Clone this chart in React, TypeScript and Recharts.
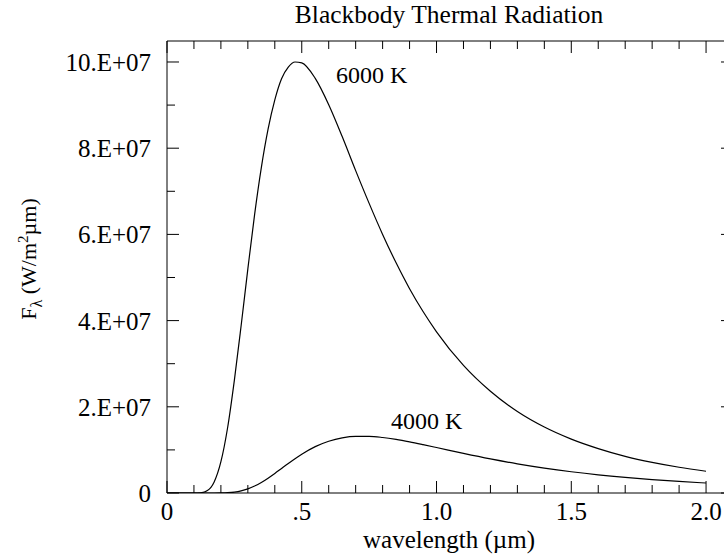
import React from "react";
import { LineChart, Line, XAxis, YAxis, ReferenceDot, Label } from "recharts";

const FONT = "'Liberation Serif', 'Times New Roman', Times, serif";

// wavelength in µm
const wavelengths = [
  0, 0.05, 0.1, 0.125, 0.15, 0.175, 0.2, 0.225, 0.25, 0.275, 0.3, 0.325, 0.35, 0.375, 0.4, 0.425,
  0.45, 0.475, 0.5, 0.55, 0.6, 0.65, 0.7, 0.75, 0.8, 0.85, 0.9, 0.95, 1.0, 1.1, 1.2, 1.3, 1.4,
  1.5, 1.6, 1.7, 1.8, 1.9, 2.0,
];
const flux6000 = [
  0, 0, 0, 60000, 560000, 2560000, 7260000, 15200000, 26200000, 38800000, 52000000, 64600000,
  75500000, 84400000, 91200000, 96100000, 98800000, 100000000, 99800000, 96200000, 90100000,
  82700000, 74800000, 67200000, 60000000, 53400000, 47400000, 42100000, 37400000, 29600000,
  23600000, 18900000, 15300000, 12500000, 10300000, 8500000, 7100000, 5970000, 5050000,
];
const flux4000 = [
  0, 0, 0, 0, 0, 0, 18000, 74000, 215000, 496000, 957000, 1610000, 2450000, 3450000, 4540000,
  5700000, 6850000, 7960000, 9000000, 10760000, 12010000, 12800000, 13140000, 13140000, 12880000,
  12430000, 11860000, 11220000, 10550000, 9180000, 7900000, 6760000, 5770000, 4930000, 4210000,
  3610000, 3110000, 2680000, 2320000,
];

const xTicks = [0, 0.1, 0.2, 0.3, 0.4, 0.5, 0.6, 0.7, 0.8, 0.9, 1.0, 1.1, 1.2, 1.3, 1.4, 1.5, 1.6, 1.7, 1.8, 1.9, 2.0, 2.1];
const xMajor = [0, 0.5, 1.0, 1.5, 2.0];
const xMajorLabels = ["0", ".5", "1.0", "1.5", "2.0"];
const yTicks = [0, 1e7, 2e7, 3e7, 4e7, 5e7, 6e7, 7e7, 8e7, 9e7, 1e8];
const yMajor = [0, 2e7, 4e7, 6e7, 8e7, 1e8];
const yMajorLabels = ["0", "2.E+07", "4.E+07", "6.E+07", "8.E+07", "10.E+07"];

const chartData = wavelengths.map((wl, i) => ({ wl, t6000: flux6000[i], t4000: flux4000[i] }));

const MAJOR = 12;
const MINOR = 8;
const TICK_FONT = 25;

const findMajor = (list: number[], v: number) =>
  list.findIndex((m) => Math.abs(m - v) < Math.max(1e-6, Math.abs(m) * 1e-6));

const BottomTick = (props: any) => {
  const { x, y, payload } = props;
  const idx = findMajor(xMajor, payload.value);
  const len = idx >= 0 ? MAJOR : MINOR;
  return (
    <g>
      <line x1={x} x2={x} y1={y} y2={y - len} stroke="#000" />
      {idx >= 0 && (
        <text x={x} y={y + 27} textAnchor="middle" fontFamily={FONT} fontSize={TICK_FONT} fill="#000">
          {xMajorLabels[idx]}
        </text>
      )}
    </g>
  );
};

const TopTick = (props: any) => {
  const { x, y, payload } = props;
  const len = findMajor(xMajor, payload.value) >= 0 ? MAJOR : MINOR;
  return <line x1={x} x2={x} y1={y} y2={y + len} stroke="#000" />;
};

const LeftTick = (props: any) => {
  const { x, y, payload } = props;
  const idx = findMajor(yMajor, payload.value);
  const len = idx >= 0 ? MAJOR : MINOR;
  return (
    <g>
      <line x1={x} x2={x + len} y1={y} y2={y} stroke="#000" />
      {idx >= 0 && (
        <text x={x - 16} y={y} dy="0.36em" textAnchor="end" fontFamily={FONT} fontSize={TICK_FONT} fill="#000">
          {yMajorLabels[idx]}
        </text>
      )}
    </g>
  );
};

const RightTick = (props: any) => {
  const { x, y, payload } = props;
  const len = findMajor(yMajor, payload.value) >= 0 ? MAJOR : MINOR;
  return <line x1={x} x2={x - len} y1={y} y2={y} stroke="#000" />;
};

const TitleLabel = (props: any) => {
  const vb = props.viewBox;
  return (
    <text x={vb.x + vb.width / 2 - 1} y={vb.y + vb.height - 18} textAnchor="middle" fontFamily={FONT} fontSize={25.5} fill="#000">
      Blackbody Thermal Radiation
    </text>
  );
};

const XTitle = (props: any) => {
  const vb = props.viewBox;
  return (
    <text x={vb.x + vb.width / 2 - 1} y={vb.y + 55} textAnchor="middle" fontFamily={FONT} fontSize={25} fill="#000">
      wavelength (µm)
    </text>
  );
};

const YTitle = (props: any) => {
  const vb = props.viewBox;
  const x = 36;
  const y = vb.y + vb.height / 2 - 8;
  return (
    <text x={x} y={y} transform={`rotate(-90 ${x} ${y})`} textAnchor="middle" fontFamily={FONT} fontSize={22} fill="#000">
      F
      <tspan dy={6} fontSize={16}>λ</tspan>
      <tspan dy={-6}> (W/m</tspan>
      <tspan dy={-8} fontSize={15}>2</tspan>
      <tspan dy={8}>µm)</tspan>
    </text>
  );
};

export default function App() {
  const labelStyle = { fontFamily: FONT, fontSize: 24, fill: "#000" };
  return (
    <div style={{ position: "absolute", left: 0, top: 0, width: 724, height: 556, overflow: "hidden", background: "#fff" }}>
      <LineChart width={734} height={556} data={chartData} margin={{ top: 40, right: 0, left: 166, bottom: 62 }}>
        <XAxis
          xAxisId="b"
          dataKey="wl"
          type="number"
          domain={[0, 2.1]}
          ticks={xTicks}
          interval={0}
          height={1}
          tickSize={0}
          tickMargin={0}
          tickLine={false}
          axisLine={{ stroke: "#000" }}
          tick={(p: any) => <BottomTick {...p} />}
          allowDataOverflow
        >
          <Label content={(p: any) => <XTitle {...p} />} />
        </XAxis>
        <XAxis
          xAxisId="t"
          orientation="top"
          dataKey="wl"
          type="number"
          domain={[0, 2.1]}
          ticks={xTicks}
          interval={0}
          height={1}
          tickSize={0}
          tickMargin={0}
          tickLine={false}
          axisLine={{ stroke: "#000" }}
          tick={(p: any) => <TopTick {...p} />}
          allowDataOverflow
        >
          <Label content={(p: any) => <TitleLabel {...p} />} />
        </XAxis>
        <YAxis
          yAxisId="l"
          type="number"
          domain={[0, 104870000]}
          ticks={yTicks}
          interval={0}
          width={1}
          tickSize={0}
          tickMargin={0}
          tickLine={false}
          axisLine={{ stroke: "#000" }}
          tick={(p: any) => <LeftTick {...p} />}
          allowDataOverflow
        >
          <Label content={(p: any) => <YTitle {...p} />} />
        </YAxis>
        <YAxis
          yAxisId="r"
          orientation="right"
          type="number"
          domain={[0, 104870000]}
          ticks={yTicks}
          interval={0}
          width={1}
          tickSize={0}
          tickMargin={0}
          tickLine={false}
          axisLine={{ stroke: "#000" }}
          tick={(p: any) => <RightTick {...p} />}
          allowDataOverflow
        />
        <Line
          xAxisId="b"
          yAxisId="l"
          type="monotone"
          dataKey="t6000"
          stroke="#000"
          strokeWidth={1.2}
          dot={false}
          isAnimationActive={false}
        />
        <Line
          xAxisId="t"
          yAxisId="r"
          type="monotone"
          dataKey="t4000"
          stroke="#000"
          strokeWidth={1.2}
          dot={false}
          isAnimationActive={false}
        />
        <ReferenceDot
          xAxisId="b"
          yAxisId="l"
          x={0.759}
          y={97200000}
          r={0}
          fill="none"
          stroke="none"
          label={{ value: "6000 K", position: "center", ...labelStyle }}
        />
        <ReferenceDot
          xAxisId="b"
          yAxisId="l"
          x={0.963}
          y={16940000}
          r={0}
          fill="none"
          stroke="none"
          label={{ value: "4000 K", position: "center", ...labelStyle }}
        />
      </LineChart>
    </div>
  );
}
